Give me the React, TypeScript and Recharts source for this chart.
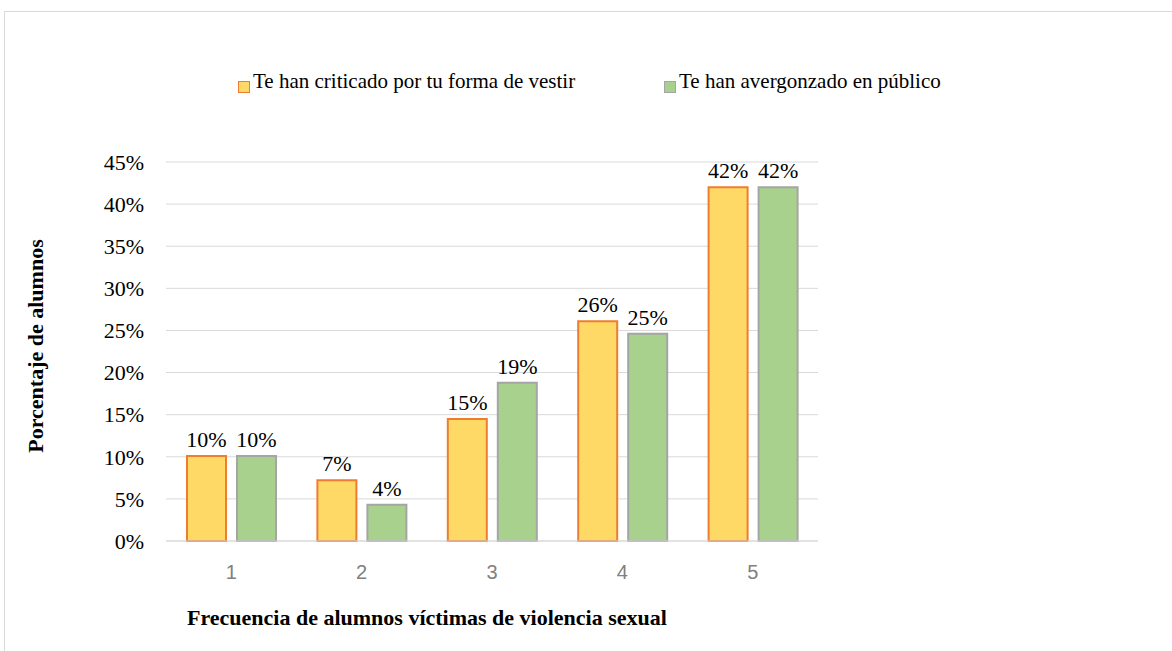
import React from "react";
import {
  BarChart, Bar, XAxis, YAxis, CartesianGrid, Legend, LabelList
} from "recharts";

const categories = ["1", "2", "3", "4", "5"];
const criticado = [10.1, 7.2, 14.5, 26.1, 42.0];
const avergonzado = [10.1, 4.3, 18.8, 24.6, 42.0];
const yTicks = [0, 5, 10, 15, 20, 25, 30, 35, 40, 45];

const SERIES = [
  { key: "criticado", name: "Te han criticado por tu forma de vestir", fill: "#FFD966", stroke: "#ED7D31" },
  { key: "avergonzado", name: "Te han avergonzado en público", fill: "#A9D18E", stroke: "#A5A5A5" },
];

const data = categories.map((c, i) => ({
  name: c,
  criticado: criticado[i],
  avergonzado: avergonzado[i],
}));

const SERIF = "Liberation Serif, DejaVu Serif, serif";
const LEGEND_X = [238, 664];

function LegendContent() {
  return (
    <div style={{ position: "relative", height: 0 }}>
      {SERIES.map((s, i) => (
        <div
          key={s.key}
          style={{
            position: "absolute", left: LEGEND_X[i], top: 71,
            display: "flex", alignItems: "flex-start", whiteSpace: "nowrap",
            fontFamily: SERIF, fontSize: 21, lineHeight: "21px", color: "#000",
          }}
        >
          <span style={{
            display: "inline-block", width: 12, height: 12, boxSizing: "border-box",
            background: s.fill, border: `1px solid ${s.stroke}`, marginTop: 10, marginRight: 3,
          }} />
          <span>{s.name}</span>
        </div>
      ))}
    </div>
  );
}

export default function App() {
  return (
    <div style={{ position: "absolute", left: 0, top: 0, width: 1172, height: 651, overflow: "hidden", background: "#fff" }}>
      <div style={{
        position: "absolute", left: 4, top: 11, width: 1200, height: 700,
        borderTop: "1px solid #D9D9D9", borderLeft: "1px solid #D9D9D9",
      }} />
      <BarChart
        width={1172}
        height={651}
        data={data}
        margin={{ top: 162, right: 354, bottom: 70, left: 106 }}
        barSize={39}
        barGap={11}
        style={{ position: "absolute", left: 0, top: 0 }}
      >
        <CartesianGrid vertical={false} stroke="#D9D9D9" />
        <XAxis
          dataKey="name"
          height={40}
          axisLine={{ stroke: "#D9D9D9" }}
          tickLine={false}
          tickSize={0}
          tickMargin={24}
          tick={{ fill: "#808080", fontSize: 20, fontFamily: "Liberation Sans, Arial, sans-serif" }}
        />
        <YAxis
          width={60}
          domain={[0, 45]}
          ticks={yTicks}
          axisLine={false}
          tickLine={false}
          tickSize={0}
          tickMargin={22}
          tickFormatter={(v) => `${v}%`}
          tick={{ fill: "#000", fontSize: 22, fontFamily: SERIF }}
        />
        <Legend content={<LegendContent />} wrapperStyle={{ top: 0, left: 0, width: 1172 }} />
        {SERIES.map((s) => (
          <Bar
            key={s.key}
            dataKey={s.key}
            name={s.name}
            fill={s.fill}
            stroke={s.stroke}
            strokeWidth={2}
            isAnimationActive={false}
          >
            <LabelList
              dataKey={s.key}
              position="top"
              offset={9}
              formatter={(v) => `${Math.round(Number(v))}%`}
              style={{ fill: "#000", fontSize: 22, fontFamily: SERIF }}
            />
          </Bar>
        ))}
      </BarChart>
      <div style={{
        position: "absolute", left: 36, top: 346, transform: "translate(-50%, -50%) rotate(-90deg)",
        whiteSpace: "nowrap", fontFamily: SERIF, fontWeight: "bold", fontSize: 22, lineHeight: "22px", color: "#000",
      }}>
        Porcentaje de alumnos
      </div>
      <div style={{
        position: "absolute", left: 187, top: 607, whiteSpace: "nowrap",
        fontFamily: SERIF, fontWeight: "bold", fontSize: 22, lineHeight: "22px", color: "#000",
      }}>
        Frecuencia de alumnos víctimas de violencia sexual
      </div>
    </div>
  );
}
